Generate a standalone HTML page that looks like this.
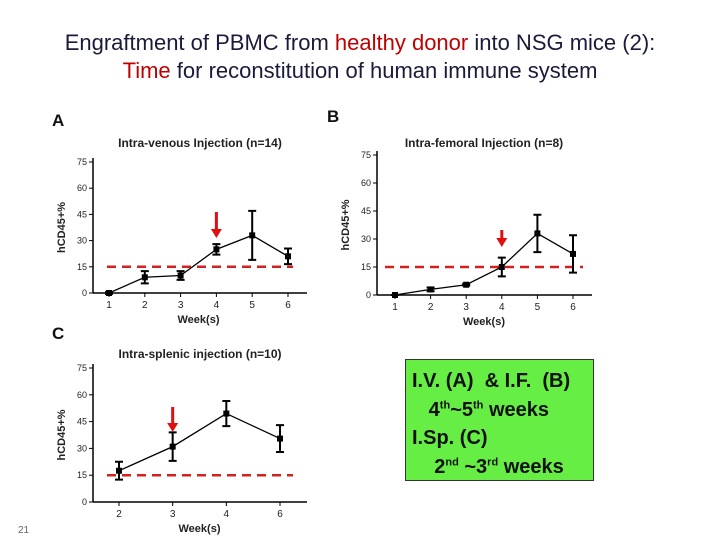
<!DOCTYPE html>
<html><head><meta charset="utf-8">
<style>
body{margin:0;width:720px;height:540px;background:#fff;overflow:hidden;position:relative;font-family:"Liberation Sans",sans-serif}
#title{position:absolute;left:0;top:29px;width:720px;text-align:center;font-family:"Liberation Sans",sans-serif;font-size:22px;line-height:28px;color:#1a1a3a}
.r{color:#c00000}
#box{position:absolute;left:405px;top:359px;width:189px;height:122px;background:#66ee44;border:1px solid #333;font-size:20px;font-weight:bold;line-height:28.5px;color:#111;box-sizing:border-box;padding:7px 0 0 6px;white-space:nowrap}
sup{font-size:11px;line-height:0}
</style></head><body>
<div id="title">Engraftment of PBMC from <span class="r">healthy donor</span> into NSG mice (2):<br><span class="r">Time</span> for reconstitution of human immune system</div>
<svg id="svg" width="720" height="540" style="position:absolute;left:0;top:0"></svg>
<div id="box">I.V. (A) &nbsp;&amp; I.F. &nbsp;(B)<br>&nbsp;&nbsp;&nbsp;4<sup>th</sup>~5<sup>th</sup> weeks<br>I.Sp. (C)<br>&nbsp;&nbsp;&nbsp;&nbsp;2<sup>nd</sup> ~3<sup>rd</sup> weeks</div>
<div style="position:absolute;left:18px;top:525px;font-size:10px;color:#666">21</div>
<script>
const yTicks=[0,15,30,45,60,75];
const threshold=15;
const weeksA=[1,2,3,4,5,6];
const meanA=[0,9,10,25,33,21];
const errA=[0.5,3.5,2.5,3,14,4.5];
const weeksB=[1,2,3,4,5,6];
const meanB=[0,3,5.5,15,33,22];
const errB=[0,1,0.5,5,10,10];
const weeksC=[2,3,4,6];
const meanC=[17.5,31,49.5,35.5];
const errC=[5,8,7,7.5];
const NS='http://www.w3.org/2000/svg';
const svg=document.getElementById('svg');
function mk(tag,attrs,parent){const e=document.createElementNS(NS,tag);for(const k in attrs)e.setAttribute(k,attrs[k]);(parent||svg).appendChild(e);return e;}
function chart(cfg,weeks,mean,err){
  const g=mk('g',{});
  
  
  const n=weeks.length;
  const xs=i=>cfg.x0+(cfg.x1-cfg.x0)*i/(n-1);
  const ys=v=>cfg.y0-(cfg.y0-cfg.y75)*v/75;
  const t=mk('text',{x:cfg.tx,y:cfg.ty,'font-size':12,'font-weight':'bold','text-anchor':'middle',fill:'#222'},g);t.textContent=cfg.title;
  
  const L=mk('text',{x:cfg.lx,y:cfg.ly,'font-size':17,'font-weight':'bold',fill:'#111'},g);L.textContent=cfg.letter;
  
  mk('line',{x1:cfg.ax,y1:cfg.y75-4,x2:cfg.ax,y2:cfg.y0,stroke:'#000','stroke-width':1.5},g);
  mk('line',{x1:cfg.ax,y1:cfg.y0,x2:cfg.axEnd,y2:cfg.y0,stroke:'#000','stroke-width':1.5},g);
  yTicks.forEach(v=>{mk('line',{x1:cfg.ax-4,y1:ys(v),x2:cfg.ax,y2:ys(v),stroke:'#000'},g);
    const tt=mk('text',{x:cfg.ax-6,y:ys(v)+3,'font-size':9,'text-anchor':'end',fill:'#222'},g);tt.textContent=v;
    });
  weeks.forEach((w,i)=>{mk('line',{x1:xs(i),y1:cfg.y0,x2:xs(i),y2:cfg.y0+4,stroke:'#000'},g);
    const tt=mk('text',{x:xs(i),y:cfg.y0+15,'font-size':10,'text-anchor':'middle',fill:'#222'},g);tt.textContent=w;
    });
  const xl=mk('text',{x:(cfg.x0+cfg.x1)/2,y:cfg.y0+30,'font-size':11,'font-weight':'bold','text-anchor':'middle',fill:'#222'},g);xl.textContent='Week(s)';
  
  const yy=(cfg.y0+cfg.y75)/2;
  const yl=mk('text',{x:0,y:0,'font-size':11,'font-weight':'bold','text-anchor':'middle',fill:'#222',transform:`translate(${cfg.ax-28},${yy}) rotate(-90)`},g);yl.textContent='hCD45+%';
  
  const th=mk('line',{x1:cfg.dx0,y1:ys(threshold),x2:cfg.dx1,y2:ys(threshold),stroke:'#d42020','stroke-width':2.5,'stroke-dasharray':'9,6'},g);
  
  const p=mk('polyline',{points:mean.map((m,i)=>xs(i)+','+ys(m)).join(' '),fill:'none',stroke:'#000','stroke-width':1.3},g);
  
  mean.forEach((m,i)=>{const x=xs(i);
    const eb=mk('path',{d:`M${x},${ys(m-err[i])}V${ys(m+err[i])}M${x-4},${ys(m-err[i])}h8M${x-4},${ys(m+err[i])}h8`,stroke:'#000','stroke-width':2,fill:'none'},g);
    
    const pt=mk('rect',{x:x-3,y:ys(m)-3,width:6,height:6,fill:'#000'},g);
    });
  const ai=cfg.arrowIdx, axp=xs(ai);
  const ar=mk('path',{d:`M${axp-1.5},${cfg.ay0}h3v${cfg.ay1-cfg.ay0-9}h4l-5.5,9l-5.5,-9h4z`,fill:'#e01010'},g);
  
}
chart({name:'chart-a-intravenous',title:'Intra-venous Injection (n=14)',letter:'A',lx:52,ly:126,tx:200,ty:147,ax:93,axEnd:307,x0:109,x1:288,y0:293,y75:162,dx0:107,dx1:293,arrowIdx:3,ay0:212,ay1:238},weeksA,meanA,errA);
chart({name:'chart-b-intrafemoral',title:'Intra-femoral Injection (n=8)',letter:'B',lx:327,ly:122,tx:484,ty:147,ax:377,axEnd:592,x0:395,x1:573,y0:295,y75:155,dx0:385,dx1:583,arrowIdx:3,ay0:230,ay1:247},weeksB,meanB,errB);
chart({name:'chart-c-intrasplenic',title:'Intra-splenic injection (n=10)',letter:'C',lx:52,ly:339,tx:200,ty:358,ax:93,axEnd:307,x0:119,x1:280,y0:502,y75:368,dx0:107,dx1:293,arrowIdx:1,ay0:407,ay1:432},weeksC,meanC,errC);
</script>
</body></html>
